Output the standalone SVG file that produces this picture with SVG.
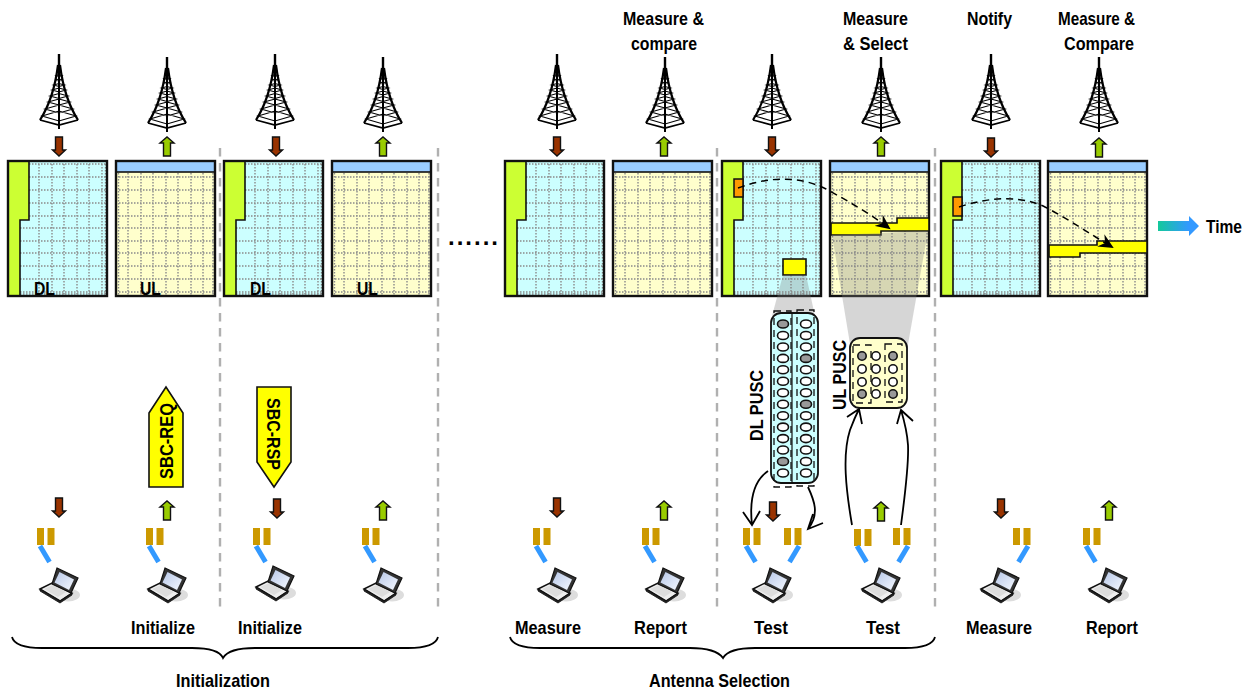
<svg xmlns="http://www.w3.org/2000/svg" width="1245" height="690" viewBox="0 0 1245 690">
<style>
text{font-family:"Liberation Sans",Arial,sans-serif;font-weight:bold;font-size:18.5px;fill:#000;text-anchor:start}
.fr{fill:none;stroke:#111;stroke-width:2.4}
.g{fill:none;stroke:#8a8a8a;stroke-width:1.4;stroke-dasharray:1.5 1.5}
.sep{stroke:#b0b0b0;stroke-width:2.4;stroke-dasharray:8.5 6.5;fill:none}
.ln{fill:none;stroke:#000;stroke-width:1.8}
.hl{fill:#ff0;stroke:#111;stroke-width:1.6}
.dash{fill:none;stroke:#000;stroke-width:1.5;stroke-dasharray:7 5}
.cd{fill:#fff;stroke:#111;stroke-width:1.6}
.cg{fill:#999;stroke:#111;stroke-width:1.6}
.dr{fill:none;stroke:#111;stroke-width:1.3;stroke-dasharray:7 5}
.beam{fill:#808080;opacity:.32}
</style>
<defs>
<linearGradient id="tg" x1="0" x2="1" y1="0" y2="0"><stop offset="0" stop-color="#14c99b"/><stop offset=".75" stop-color="#3399ff"/></linearGradient>
<linearGradient id="sg" x1="0" x2="1" y1="0" y2="1"><stop offset="0" stop-color="#b8c8e8"/><stop offset="1" stop-color="#f4f8ff"/></linearGradient>
<marker id="mk" markerWidth="18" markerHeight="14" refX="13" refY="7" orient="auto" markerUnits="userSpaceOnUse"><path d="M0,0 L15,7 L0,14 L5,7 Z" fill="#000"/></marker>
<g id="tower" fill="none" stroke="#000">
<path d="M0,0V18" stroke-width="2.4"/>
<path d="M-1,11C-4,35 -10,52 -19,66M1,11C4,35 10,52 19,66" stroke-width="2.2"/>
<path d="M0,14V75" stroke-width="2"/>
<path d="M-19,66L0,71L19,66" stroke-width="1.8"/>
<path d="M-17,62L0,57L17,62L0,67ZM-14,55L0,51L14,55L0,59ZM-11,48L0,45L11,48L0,51ZM-9,42L0,39.500L9,42L0,44.500ZM-7,36L0,34L7,36L0,38ZM-5.500,31L0,29.500L5.500,31L0,32.500ZM-4,26L0,25L4,26L0,27ZM-3,21.500L0,20.500L3,21.500L0,22.500Z" stroke-width="1.1"/>
</g>
<path id="ad" d="M-3.500,0H3.500V13H6.500L0,19L-6.500,13H-3.500Z" fill="#993300" stroke="#111" stroke-width="1.4"/>
<path id="au" d="M-3.500,19H3.500V6H7L0,0L-7,6H-3.500Z" fill="#99cc00" stroke="#111" stroke-width="1.4"/>
<g id="dlf">
<rect x="0" y="0" width="99" height="135" fill="#ccffff"/>
<path class="g" d="M31,3V134M44,3V134M56,3V134M69,3V134M81,3V134M94,3V134M97.500,3V134M3,3H98M3,16H98M3,29H98M3,42H98M3,55H98M3,67H98M3,80H98M3,92H98M3,105H98M3,118H98M3,131H98M3,133H98"/>
<path d="M0,0H21V59H12V135H0Z" fill="#ccff33" stroke="#111" stroke-width="1.6"/>
<rect class="fr" x="0" y="0" width="99" height="135"/>
</g>
<g id="ulf">
<rect x="0" y="0" width="99" height="135" fill="#ffffcc"/>
<path class="g" d="M2.500,12V134M12,12V134M25,12V134M37,12V134M50,12V134M62,12V134M75,12V134M87,12V134M97,12V134M3,16H98M3,29H98M3,42H98M3,55H98M3,67H98M3,80H98M3,92H98M3,105H98M3,118H98M3,131H98"/>
<rect x="0" y="0" width="99" height="11" fill="#99ccff" stroke="#111" stroke-width="1.6"/>
<rect class="fr" x="0" y="0" width="99" height="135"/>
</g>
<g id="bars"><rect x="0" y="0" width="7" height="17" fill="#cc9900"/><rect x="10.500" y="0" width="7" height="17" fill="#cc9900"/></g>
<path id="bl" d="M0,0 L9.500,16" stroke="#3399ff" stroke-width="5" fill="none"/>
<path id="br" d="M0,0 L-9.500,16" stroke="#3399ff" stroke-width="5" fill="none"/>
<g id="lap">
<ellipse cx="11" cy="27" rx="12" ry="6.500" fill="#ddd"/>
<path d="M-17,21L-5,15L15,25L3,33Z" fill="#eee" stroke="#111" stroke-width="1.5"/>
<path d="M-17,21L3,33L15,25L15,27L3,35L-17,23Z" fill="#222" stroke="#111" stroke-width=".8"/>
<path d="M-13,21L-4,17L9,24L1,29Z" fill="#ddd"/>
<path d="M0,0L21,10L14,25L-5,16Z" fill="#333" stroke="#111" stroke-width="1.2"/>
<path d="M2.500,4L17,11.500L12,22L-2.500,14.500Z" fill="url(#sg)"/>
</g>
</defs>

<g id="towers">
<use href="#tower" x="59" y="54"/><use href="#tower" x="167" y="57"/><use href="#tower" x="275" y="54"/><use href="#tower" x="383" y="57"/>
<use href="#tower" x="557" y="54"/><use href="#tower" x="665" y="57"/><use href="#tower" x="772" y="54"/><use href="#tower" x="881" y="57"/>
<use href="#tower" x="991" y="54"/><use href="#tower" x="1099" y="57"/>
</g>
<g id="top-arrows">
<use href="#ad" x="59" y="137"/><use href="#au" x="167" y="137"/><use href="#ad" x="276" y="137"/><use href="#au" x="383" y="137"/>
<use href="#ad" x="557" y="137"/><use href="#au" x="664" y="137"/><use href="#ad" x="772" y="137"/><use href="#au" x="881" y="137"/>
<use href="#ad" x="991" y="138"/><use href="#au" x="1099" y="138"/>
</g>
<g id="frames">
<g id="frame1"><use href="#dlf" x="8" y="161"/></g>
<g id="frame2"><use href="#ulf" x="116" y="161"/></g>
<g id="frame3"><use href="#dlf" x="224" y="161"/></g>
<g id="frame4"><use href="#ulf" x="332" y="161"/></g>
<g id="frame5"><use href="#dlf" x="505" y="161"/></g>
<g id="frame6"><use href="#ulf" x="613" y="161"/></g>
<g id="frame7"><use href="#dlf" x="722" y="161"/><rect x="734" y="179" width="9" height="18" fill="#ff9900" stroke="#111" stroke-width="1.5"/><rect class="hl" x="783" y="259" width="23" height="16"/></g>
<g id="frame8"><use href="#ulf" x="830" y="161"/><path class="hl" d="M831,223H897V218H929V231H881V235H831Z"/></g>
<g id="frame9"><use href="#dlf" x="941" y="161"/><rect x="953" y="197" width="9" height="19" fill="#ff9900" stroke="#111" stroke-width="1.5"/></g>
<g id="frame10"><use href="#ulf" x="1048" y="161"/><path class="hl" d="M1049,245H1097V241H1147V253H1080V257H1049Z"/></g>
</g>
<g id="beams">
<path class="beam" d="M783,275H806L815,316H772Z"/>
<path class="beam" d="M832,235L928,231L907,350H851Z"/>
</g>
<g id="separators">
<path class="sep" d="M220,148V610M438,148V610M717,148V610M935,148V610"/>
</g>
<g id="dl-pusc">
<rect x="771" y="313" width="47" height="170" rx="10" fill="#ccffff" stroke="#111" stroke-width="1.8"/>
<path d="M792,313V483" stroke="#111" stroke-width="1.2"/>
<g>
<ellipse class="cg" cx="783" cy="324" rx="5.500" ry="4"/><ellipse class="cd" cx="783" cy="335.500" rx="5.500" ry="4"/><ellipse class="cd" cx="783" cy="347" rx="5.500" ry="4"/><ellipse class="cd" cx="783" cy="358.400" rx="5.500" ry="4"/><ellipse class="cd" cx="783" cy="369.800" rx="5.500" ry="4"/><ellipse class="cd" cx="783" cy="381.300" rx="5.500" ry="4"/><ellipse class="cd" cx="783" cy="392.800" rx="5.500" ry="4"/><ellipse class="cd" cx="783" cy="404.200" rx="5.500" ry="4"/><ellipse class="cd" cx="783" cy="415.700" rx="5.500" ry="4"/><ellipse class="cd" cx="783" cy="427.100" rx="5.500" ry="4"/><ellipse class="cd" cx="783" cy="438.600" rx="5.500" ry="4"/><ellipse class="cd" cx="783" cy="450" rx="5.500" ry="4"/><ellipse class="cg" cx="783" cy="461.500" rx="5.500" ry="4"/><ellipse class="cd" cx="783" cy="473" rx="5.500" ry="4"/>
<ellipse class="cd" cx="806" cy="324" rx="5.500" ry="4"/><ellipse class="cd" cx="806" cy="335.500" rx="5.500" ry="4"/><ellipse class="cd" cx="806" cy="347" rx="5.500" ry="4"/><ellipse class="cg" cx="806" cy="358.400" rx="5.500" ry="4"/><ellipse class="cd" cx="806" cy="369.800" rx="5.500" ry="4"/><ellipse class="cd" cx="806" cy="381.300" rx="5.500" ry="4"/><ellipse class="cd" cx="806" cy="392.800" rx="5.500" ry="4"/><ellipse class="cg" cx="806" cy="404.200" rx="5.500" ry="4"/><ellipse class="cd" cx="806" cy="415.700" rx="5.500" ry="4"/><ellipse class="cd" cx="806" cy="427.100" rx="5.500" ry="4"/><ellipse class="cd" cx="806" cy="438.600" rx="5.500" ry="4"/><ellipse class="cd" cx="806" cy="450" rx="5.500" ry="4"/><ellipse class="cd" cx="806" cy="461.500" rx="5.500" ry="4"/><ellipse class="cd" cx="806" cy="473" rx="5.500" ry="4"/>
</g>
<rect class="dr" x="774" y="311" width="17" height="176"/>
<rect class="dr" x="797" y="310" width="17" height="176"/>
</g>
<g id="ul-pusc">
<rect x="850" y="338" width="57" height="70" rx="10" fill="#ffffcc" stroke="#111" stroke-width="1.8"/>
<circle class="cg" cx="862" cy="356" r="4.200"/><circle class="cd" cx="876" cy="356" r="4.200"/><circle class="cg" cx="893" cy="356" r="4.200"/>
<circle class="cd" cx="862" cy="369" r="4.200"/><circle class="cd" cx="876" cy="369" r="4.200"/><circle class="cd" cx="893" cy="369" r="4.200"/>
<circle class="cd" cx="862" cy="382" r="4.200"/><circle class="cd" cx="876" cy="382" r="4.200"/><circle class="cd" cx="893" cy="382" r="4.200"/>
<circle class="cg" cx="862" cy="394" r="4.200"/><circle class="cd" cx="876" cy="394" r="4.200"/><circle class="cg" cx="893" cy="394" r="4.200"/>
<rect class="dr" x="853" y="345" width="18" height="58"/>
<rect class="dr" x="885" y="344" width="17" height="58"/>
</g>
<g id="sbc-req"><path class="hl" d="M149,413L166,387L183,413V487H149Z"/></g>
<g id="sbc-rsp"><path class="hl" d="M257,387H291V462L274,487L257,462Z"/></g>
<g id="time-arrow"><path d="M1158,221H1189V216L1199,226L1189,236V231H1158Z" fill="url(#tg)"/></g>
<g id="bottom-arrows">
<use href="#ad" x="59" y="498"/><use href="#au" x="167" y="501"/><use href="#ad" x="277" y="499"/><use href="#au" x="383" y="501"/>
<use href="#ad" x="557" y="498"/><use href="#au" x="664" y="501"/><use href="#ad" x="773" y="502"/><use href="#au" x="881" y="502"/>
<use href="#ad" x="1001" y="499"/><use href="#au" x="1109" y="501"/>
</g>
<g id="terminals">
<use href="#bars" x="37" y="528"/><use href="#bl" x="40" y="546"/><use href="#lap" x="57" y="568"/>
<use href="#bars" x="146" y="528"/><use href="#bl" x="149" y="546"/><use href="#lap" x="165" y="568"/>
<use href="#bars" x="253" y="528"/><use href="#bl" x="256" y="546"/><use href="#lap" x="273" y="566"/>
<use href="#bars" x="362" y="528"/><use href="#bl" x="365" y="546"/><use href="#lap" x="381" y="568"/>
<use href="#bars" x="533" y="528"/><use href="#bl" x="536" y="546"/><use href="#lap" x="555" y="568"/>
<use href="#bars" x="642" y="528"/><use href="#bl" x="645" y="546"/><use href="#lap" x="663" y="568"/>
<use href="#bars" x="743" y="528"/><use href="#bl" x="746" y="546"/><use href="#bars" x="784" y="528"/><use href="#br" x="799" y="546"/><use href="#lap" x="770" y="568"/>
<use href="#bars" x="854" y="529"/><use href="#bl" x="857" y="546"/><use href="#bars" x="893" y="528"/><use href="#br" x="908" y="546"/><use href="#lap" x="879" y="568"/>
<use href="#bars" x="1013" y="528"/><use href="#br" x="1028" y="546"/><use href="#lap" x="998" y="568"/>
<use href="#bars" x="1083" y="528"/><use href="#bl" x="1086" y="546"/><use href="#lap" x="1106" y="568"/>
</g>
<g id="connectors">
<path class="dash" marker-end="url(#mk)" d="M738,188C770,176 800,176 826,189C850,202 870,214 889,228"/>
<path class="dash" marker-end="url(#mk)" d="M959,207C995,195 1025,197 1045,207C1070,220 1090,234 1112,247"/>
<path class="ln" d="M768,471C755,480 749,498 752,525M743,512L752,525L760,511"/>
<path class="ln" d="M808,487C814,500 820,514 808,529M823,523L808,529L813,514"/>
<path class="ln" d="M852,525C846,490 842,455 850,430C853,422 856,415 859,409M847,417L859,409L862,424"/>
<path class="ln" d="M901,525C905,495 909,465 908,445C907,430 904,420 901,410M913,421L901,410L897,424"/>
<path class="ln" d="M12,637C14,645 24,648 42,648H192C210,648 220,651 223,658C227,651 237,648 255,648H408C426,648 436,645 438,637"/>
<path class="ln" d="M510,637C512,645 522,648 540,648H690C708,648 718,651 723,658C727,651 737,648 755,648H905C923,648 933,645 935,637"/>
</g>
<g id="labels">
<text x="34" y="295" textLength="21" lengthAdjust="spacingAndGlyphs">DL</text>
<text x="140" y="295" textLength="21" lengthAdjust="spacingAndGlyphs">UL</text>
<text x="250" y="295" textLength="21" lengthAdjust="spacingAndGlyphs">DL</text>
<text x="357" y="295" textLength="21" lengthAdjust="spacingAndGlyphs">UL</text>
<text x="623" y="25" textLength="81" lengthAdjust="spacingAndGlyphs">Measure &amp;</text>
<text x="631" y="50" textLength="66" lengthAdjust="spacingAndGlyphs">compare</text>
<text x="843" y="25" textLength="65" lengthAdjust="spacingAndGlyphs">Measure</text>
<text x="843" y="50" textLength="65" lengthAdjust="spacingAndGlyphs">&amp; Select</text>
<text x="967" y="25" textLength="45" lengthAdjust="spacingAndGlyphs">Notify</text>
<text x="1058" y="25" textLength="77" lengthAdjust="spacingAndGlyphs">Measure &amp;</text>
<text x="1064" y="50" textLength="70" lengthAdjust="spacingAndGlyphs">Compare</text>
<text x="1206" y="233" textLength="36" lengthAdjust="spacingAndGlyphs">Time</text>
<text x="448" y="245" textLength="50" lengthAdjust="spacing" style="font-size:24px">......</text>
<text x="131" y="634" textLength="64" lengthAdjust="spacingAndGlyphs">Initialize</text>
<text x="238" y="634" textLength="64" lengthAdjust="spacingAndGlyphs">Initialize</text>
<text x="515" y="634" textLength="66" lengthAdjust="spacingAndGlyphs">Measure</text>
<text x="634" y="634" textLength="53" lengthAdjust="spacingAndGlyphs">Report</text>
<text x="754" y="634" textLength="34" lengthAdjust="spacingAndGlyphs">Test</text>
<text x="866" y="634" textLength="34" lengthAdjust="spacingAndGlyphs">Test</text>
<text x="966" y="634" textLength="66" lengthAdjust="spacingAndGlyphs">Measure</text>
<text x="1086" y="634" textLength="52" lengthAdjust="spacingAndGlyphs">Report</text>
<text x="176" y="687" textLength="94" lengthAdjust="spacingAndGlyphs">Initialization</text>
<text x="649" y="687" textLength="141" lengthAdjust="spacingAndGlyphs">Antenna Selection</text>
<text transform="translate(173,479) rotate(-90)" textLength="76" lengthAdjust="spacingAndGlyphs">SBC-REQ</text>
<text transform="translate(267,398) rotate(90)" textLength="72" lengthAdjust="spacingAndGlyphs">SBC-RSP</text>
<text transform="translate(763,441) rotate(-90)" textLength="71" lengthAdjust="spacingAndGlyphs">DL PUSC</text>
<text transform="translate(846,410) rotate(-90)" textLength="70" lengthAdjust="spacingAndGlyphs">UL PUSC</text>
</g>
</svg>
